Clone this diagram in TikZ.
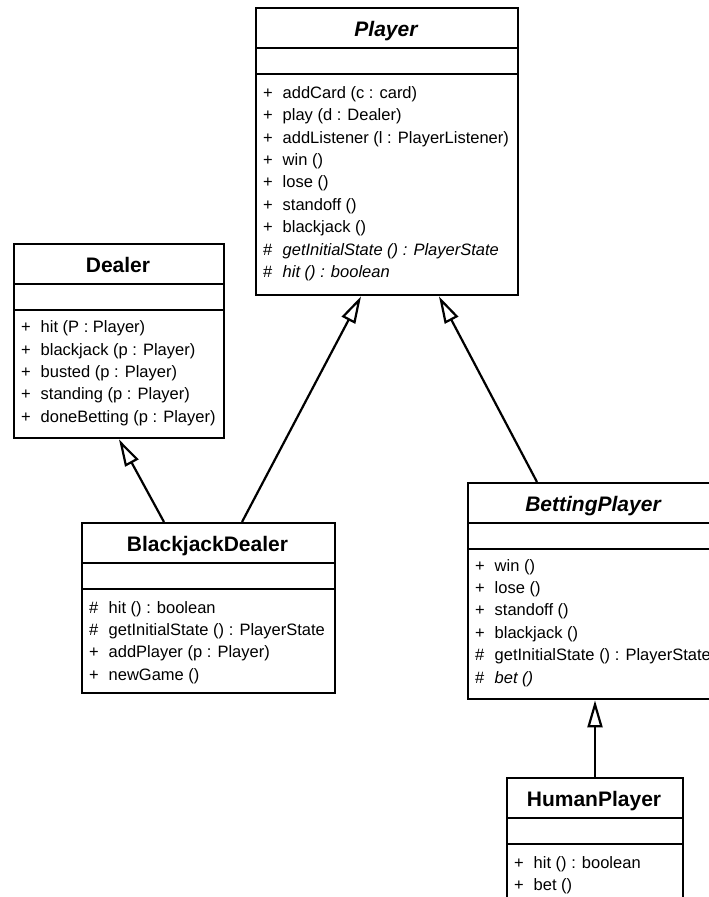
\documentclass[tikz,border=0pt]{standalone}
\usepackage{fontspec}
\setmainfont{Liberation Sans}
\usetikzlibrary{arrows.meta,calc}

\begin{document}
\begin{tikzpicture}[x=1pt,y=-1pt,
    classbox/.style={draw, line width=2.4pt, inner sep=0pt, anchor=north west},
    title/.style={font=\fontsize{21}{25}\selectfont\bfseries, inner sep=0pt, anchor=base},
    member/.style={font=\fontsize{16.5}{20}\selectfont, inner sep=0pt, anchor=base west},
    divider/.style={line width=1.3pt},
    inherits/.style={-{Triangle[open,length=27pt,width=15pt]}, line width=2.2pt}]

    \clip (0,0) rectangle (709,897);

    % class boxes
    \node[classbox, minimum width=262pt, minimum height=287pt] (player) at (255,7) {};
    \node[classbox, minimum width=210pt, minimum height=194pt] (dealer) at (13,243) {};
    \node[classbox, minimum width=253pt, minimum height=170pt] (bjd) at (81,522) {};
    \node[classbox, minimum width=252pt, minimum height=216pt] (betting) at (467,482) {};
    \node[classbox, minimum width=176pt, minimum height=130pt] (human) at (506,777) {};

    % compartments
    \foreach \c in {player,dealer,bjd,betting,human}
        \draw[divider] ([yshift=-41pt]\c.north west) -- ([yshift=-41pt]\c.north east)
                       ([yshift=-67pt]\c.north west) -- ([yshift=-67pt]\c.north east);

    % class names
    \node[title] (player-t) at (386,36.5) {\itshape Player};
    \node[title] (dealer-t) at (118,272) {Dealer};
    \node[title] (bjd-t) at (207.5,551.5) {BlackjackDealer};
    \node[title] (betting-t) at (593,511.5) {\itshape BettingPlayer};
    \node[title] (human-t) at (594,806.5) {HumanPlayer};

    % operations
    \foreach \v/\m [count=\i from 0] in {+/addCard (c : card), +/play (d : Dealer),
            +/addListener (l : PlayerListener), +/win (), +/lose (), +/standoff (),
            +/blackjack (), \#/\textit{getInitialState () : PlayerState},
            \#/\textit{hit () : boolean}}
        \node[member] (player-m\i) at (263,98.3+22.4*\i) {\makebox[19.5pt][l]{\v}\m};

    \foreach \v/\m [count=\i from 0] in {+/hit (P : Player), +/blackjack (p : Player),
            +/busted (p : Player), +/standing (p : Player), +/doneBetting (p : Player)}
        \node[member] (dealer-m\i) at (21,332.7+22.4*\i) {\makebox[19.5pt][l]{\v}\m};

    \foreach \v/\m [count=\i from 0] in {\#/hit () : boolean,
            \#/getInitialState () : PlayerState, +/addPlayer (p : Player), +/newGame ()}
        \node[member] (bjd-m\i) at (89,613+22.4*\i) {\makebox[19.5pt][l]{\v}\m};

    \foreach \v/\m [count=\i from 0] in {+/win (), +/lose (), +/standoff (), +/blackjack (),
            \#/getInitialState () : PlayerState, \#/\textit{bet ()}}
        \node[member] (betting-m\i) at (475,571+22.4*\i) {\makebox[19.5pt][l]{\v}\m};

    \foreach \v/\m [count=\i from 0] in {+/hit () : boolean, +/bet ()}
        \node[member] (human-m\i) at (514,868+22.4*\i) {\makebox[19.5pt][l]{\v}\m};

    % generalisations
    \draw[inherits] ([xshift=161pt]bjd.north west) -- ([xshift=106pt]player.south west);
    \draw[inherits] ([xshift=70pt]betting.north west) -- ([xshift=184pt]player.south west);
    \draw[inherits] ([xshift=83pt]bjd.north west) -- ([xshift=106pt]dealer.south west);
    \draw[inherits] ([xshift=89pt]human.north west) -- ([xshift=128pt]betting.south west);
\end{tikzpicture}
\end{document}
